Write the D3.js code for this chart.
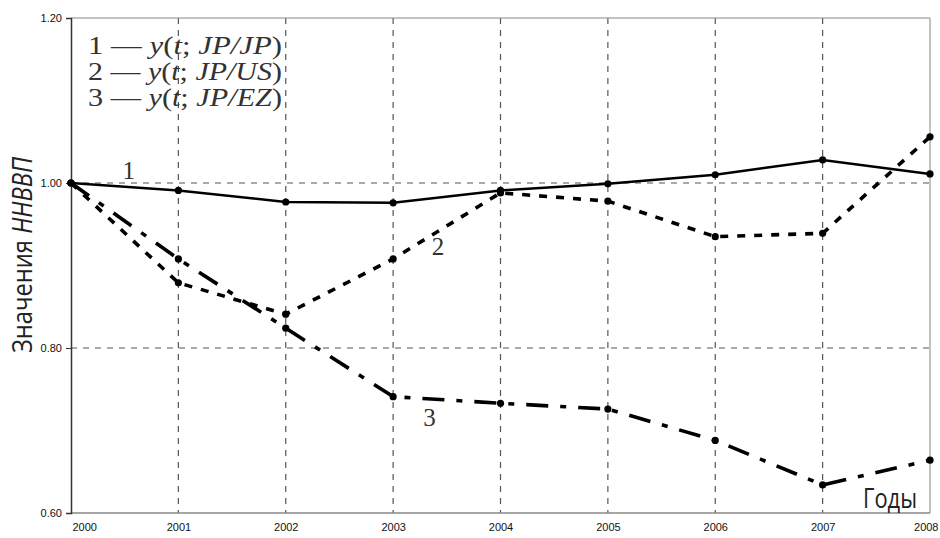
<!DOCTYPE html>
<html><head><meta charset="utf-8">
<script src="https://cdn.jsdelivr.net/npm/d3@7"></script>
<style>body{margin:0;background:#fff}svg{display:block}</style>
</head><body>
<svg id="c" width="940" height="538"></svg>
<script>
const years = [2000,2001,2002,2003,2004,2005,2006,2007,2008];
const jpjp = [1.000,0.991,0.977,0.976,0.991,0.999,1.010,1.028,1.011];
const jpus = [1.000,0.879,0.841,0.908,0.988,0.978,0.935,0.939,1.056];
const jpez = [1.000,0.908,0.824,0.741,0.733,0.726,0.688,0.634,0.664];
const yTicks = [0.60,0.80,1.00,1.20];
const yGrid = [0.80,1.00];
const legendRows = [["1","JP","JP"],["2","JP","US"],["3","JP","EZ"]];

const svg = d3.select("#c");
const L=71,R=930,T=18,B=513;
const x = d3.scaleLinear().domain([2000,2008]).range([L,R]);
const y = d3.scaleLinear().domain([0.6,1.2]).range([B,T]);

// grid
svg.append("g").selectAll("line").data(years.slice(1,-1)).join("line")
  .attr("x1",d=>x(d)).attr("x2",d=>x(d)).attr("y1",T).attr("y2",B)
  .attr("stroke","#555").attr("stroke-width",1.2).attr("stroke-dasharray","6,6");
svg.append("g").selectAll("line").data(yGrid).join("line")
  .attr("y1",d=>y(d)).attr("y2",d=>y(d)).attr("x1",L).attr("x2",R)
  .attr("stroke","#555").attr("stroke-width",1.2).attr("stroke-dasharray","6,6");

// frame
svg.append("line").attr("x1",L).attr("x2",R).attr("y1",T).attr("y2",T).attr("stroke","#888").attr("stroke-width",1.2);
svg.append("line").attr("x1",R).attr("x2",R).attr("y1",T).attr("y2",B).attr("stroke","#999").attr("stroke-width",1.2);
svg.append("line").attr("x1",L).attr("x2",R).attr("y1",B).attr("y2",B).attr("stroke","#888").attr("stroke-width",1.5);

// y axis
const ya = svg.append("g").attr("transform",`translate(${L},0)`)
  .call(d3.axisLeft(y).tickValues(yTicks).tickFormat(d3.format(".2f")).tickSize(5));
ya.select(".domain").attr("stroke","#333").attr("stroke-width",1.5);
ya.selectAll("line").attr("stroke","#333");
ya.selectAll("text").attr("font-family","Liberation Sans, Arial").attr("font-size",11).attr("fill","#111").attr("dx","-1");

// x axis labels
const xa = svg.append("g").attr("transform",`translate(0,${B})`)
  .call(d3.axisBottom(x).tickValues(years).tickFormat(d3.format("d")).tickSize(0).tickPadding(10));
xa.select(".domain").remove();
xa.selectAll("text").attr("font-family","Liberation Sans, Arial").attr("font-size",11).attr("fill","#111");
xa.selectAll(".tick").filter(d=>d===2000).select("text").attr("text-anchor","start").attr("x",1);
xa.selectAll(".tick").filter(d=>d===2008).select("text").attr("text-anchor","end").attr("x",8);

// lines
const line = d3.line().x((d,i)=>x(years[i])).y(d=>y(d));
const series = [
  {v:jpjp, dash:null, w:2.5},
  {v:jpus, dash:"8,9", w:3.6},
  {v:jpez, dash:"22,12,6,12", w:3.6}
];
series.forEach(s=>{
  svg.append("path").datum(s.v).attr("d",line).attr("fill","none")
    .attr("stroke","#000").attr("stroke-width",s.w)
    .attr("stroke-dasharray",s.dash).attr("stroke-linecap","butt");
  svg.append("g").selectAll("circle").data(s.v).join("circle")
    .attr("cx",(d,i)=>x(years[i])).attr("cy",d=>y(d)).attr("r",3.6).attr("fill","#000");
});

// series labels
const serif = "Liberation Serif, Times New Roman, serif";
[["1",2000.48,1.005],["2",2003.36,0.913],["3",2003.28,0.7055]].forEach(([t,xv,yv])=>{
  svg.append("text").attr("x",x(xv)).attr("y",y(yv)).attr("font-family",serif)
    .attr("font-size",25).attr("fill","#333").text(t);
});

// legend
legendRows.forEach((l,i)=>{
  const t = svg.append("text").attr("x",88).attr("y",54+i*26)
    .attr("font-family",serif).attr("font-size",25).attr("fill","#333")
    .attr("textLength",194).attr("lengthAdjust","spacingAndGlyphs");
  t.append("tspan").text(l[0]+" — ");
  t.append("tspan").attr("font-style","italic").text("y");
  t.append("tspan").text("(");
  t.append("tspan").attr("font-style","italic").text("t");
  t.append("tspan").text("; ");
  t.append("tspan").attr("font-style","italic").text(l[1]+"/"+l[2]);
  t.append("tspan").text(")");
});

// axis titles
svg.append("text").attr("x",917).attr("y",508).attr("text-anchor","end")
  .attr("font-family","Open Sans, Noto Sans, sans-serif").attr("font-size",27).attr("fill","#222")
  .attr("textLength",54).attr("lengthAdjust","spacingAndGlyphs").text("Годы");
const yt = svg.append("text").attr("transform","translate(32,353) rotate(-90)").attr("text-anchor","start")
  .attr("font-family","Open Sans, Noto Sans, sans-serif").attr("font-size",28).attr("fill","#222")
  .attr("textLength",196).attr("lengthAdjust","spacingAndGlyphs");
yt.append("tspan").text("Значения ");
yt.append("tspan").attr("font-style","italic").text("ННВВП");
</script>
</body></html>
